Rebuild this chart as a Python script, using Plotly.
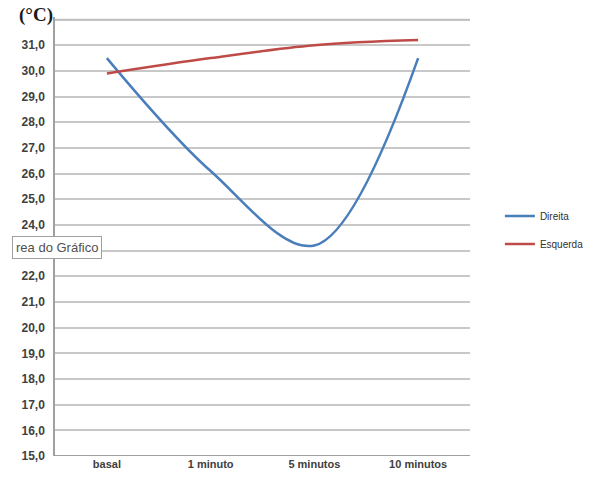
import plotly.graph_objects as go

categories = ["basal", "1 minuto", "5 minutos", "10 minutos"]
direita = [30.5, 26.1, 23.2, 30.5]
esquerda = [29.9, 30.5, 31.0, 31.2]
y_ticks = list(range(15, 33))
y_ticktext = [f"{v},0" if (v <= 31 and v != 23) else "" for v in y_ticks]
y_min, y_max = 15, 32.1

fig = go.Figure()
fig.add_trace(go.Scatter(x=categories, y=direita, name="Direita", mode="lines", legendgroup="a",
                         line=dict(color="#4A7EBB", width=2.5, shape="spline", smoothing=1.0)))
fig.add_trace(go.Scatter(x=categories, y=esquerda, name="Esquerda", mode="lines", legendgroup="b",
                         line=dict(color="#BE4B48", width=2.5, shape="spline", smoothing=1.0)))

fig.update_layout(
    width=597, height=486,
    margin=dict(l=55, r=127, t=17, b=30, autoexpand=False),
    paper_bgcolor="white", plot_bgcolor="white",
    showlegend=True,
    legend=dict(x=1.072, y=0.58, xanchor="left", yanchor="top",
                font=dict(family="Liberation Sans", size=10, color="#303030"),
                itemwidth=30, tracegroupgap=9, bgcolor="rgba(0,0,0,0)"),
    xaxis=dict(type="category", range=[-0.5, 3.5], showgrid=False, automargin=False,
               showline=False, ticks="", zeroline=False,
               tickfont=dict(family="Liberation Sans", size=11, color="#404040", weight="bold")),
    yaxis=dict(range=[y_min, y_max], tickvals=y_ticks, ticktext=y_ticktext, automargin=False,
               showgrid=True, gridcolor="#C8C8C8", gridwidth=1.5,
               showline=True, linecolor="#A0A0A0", linewidth=1.5,
               zeroline=False, ticks="", ticklen=0, ticklabelstandoff=6,
               tickfont=dict(family="Liberation Sans", size=12, color="#404040", weight="bold")),
)
fig.add_shape(type="line", xref="paper", yref="y", x0=0, x1=1, y0=15, y1=15,
              line=dict(color="#A0A0A0", width=2))
top_grid = (32 - y_min) / (y_max - y_min)
fig.add_shape(type="line", xref="paper", yref="paper", x0=0, x1=1, y0=top_grid, y1=top_grid,
              line=dict(color="#C0C0C0", width=1.5))
fig.add_annotation(text="<b>(°C)</b>", xref="paper", yref="paper", x=-0.0916, y=1.0046,
                   xanchor="left", yanchor="middle", showarrow=False,
                   font=dict(family="Liberation Serif", size=19, color="#1a1a1a"))
fig.add_annotation(text="rea do Gráfico", xref="paper", yref="paper", x=-0.1036, y=0.475,
                   xanchor="left", yanchor="middle", showarrow=False,
                   bgcolor="white", bordercolor="#A0A0A0", borderwidth=1, borderpad=3,
                   font=dict(family="Liberation Sans", size=13, color="#505050"))
fig.write_html("out.html", config={"displayModeBar": False},
               post_script="document.body.style.margin='0';")
